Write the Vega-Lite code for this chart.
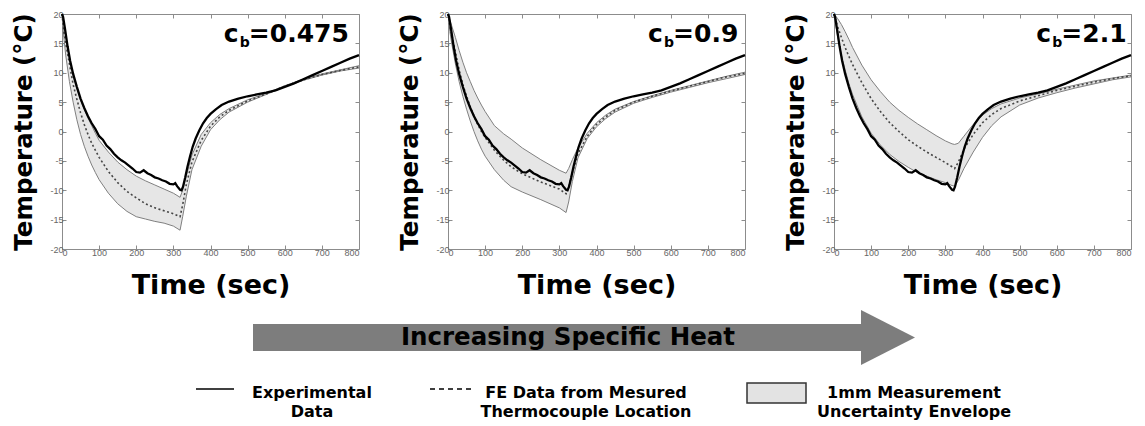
{
  "$schema": "https://vega.github.io/schema/vega-lite/v6.json",
  "padding": {"left": 10, "top": 8, "right": 0, "bottom": 0},
  "background": "white",
  "config": {
    "view": {"stroke": "#8c8c8c", "strokeWidth": 1},
    "axis": {"grid": false, "domain": false, "tickColor": "#8c8c8c", "tickSize": -4, "labelFont": "Liberation Sans", "labelFontSize": 9, "labelColor": "#666666", "titleFont": "DejaVu Sans", "titleFontWeight": "bold", "titleColor": "#000000"},
    "text": {"font": "DejaVu Sans", "fontWeight": "bold", "color": "#000000"}
  },
  "datasets": {
    "exp": [
      {"t":0,"T":20},{"t":3,"T":19.5},{"t":8,"T":17.5},{"t":15,"T":14.5},{"t":22,"T":12},{"t":30,"T":9.8},{"t":40,"T":7.6},{"t":50,"T":5.6},{"t":60,"T":4.0},{"t":70,"T":2.6},{"t":80,"T":1.4},{"t":90,"T":0.4},{"t":100,"T":-0.8},{"t":110,"T":-1.4},{"t":120,"T":-2.4},{"t":130,"T":-3.0},{"t":140,"T":-3.8},{"t":150,"T":-4.4},{"t":160,"T":-4.9},{"t":170,"T":-5.3},{"t":180,"T":-5.8},{"t":190,"T":-6.3},{"t":200,"T":-6.9},{"t":210,"T":-7.0},{"t":220,"T":-6.6},{"t":230,"T":-7.1},{"t":240,"T":-7.4},{"t":250,"T":-7.8},{"t":260,"T":-8.0},{"t":270,"T":-8.3},{"t":280,"T":-8.5},{"t":290,"T":-8.9},{"t":300,"T":-9.0},{"t":305,"T":-8.8},{"t":310,"T":-9.3},{"t":318,"T":-9.9},{"t":322,"T":-10.0},{"t":326,"T":-9.4},{"t":332,"T":-7.8},{"t":338,"T":-6.0},{"t":345,"T":-4.2},{"t":352,"T":-2.6},{"t":360,"T":-1.2},{"t":370,"T":0.2},{"t":380,"T":1.4},{"t":390,"T":2.3},{"t":400,"T":3.0},{"t":415,"T":3.8},{"t":430,"T":4.5},{"t":450,"T":5.1},{"t":475,"T":5.6},{"t":500,"T":6.0},{"t":525,"T":6.3},{"t":550,"T":6.6},{"t":575,"T":7.0},{"t":600,"T":7.6},{"t":625,"T":8.2},{"t":650,"T":8.9},{"t":675,"T":9.6},{"t":700,"T":10.3},{"t":725,"T":11.0},{"t":750,"T":11.7},{"t":775,"T":12.4},{"t":800,"T":13.0}
    ],
    "p1": [
      {"t":0,"lo":20,"hi":20,"fe":20},{"t":5,"lo":16,"hi":18.5,"fe":17},{"t":10,"lo":13,"hi":16.5,"fe":15},{"t":20,"lo":8.5,"hi":12.5,"fe":11.5},{"t":30,"lo":5,"hi":9.5,"fe":8},{"t":40,"lo":2,"hi":7.3,"fe":5.5},{"t":50,"lo":-0.5,"hi":5.3,"fe":3.2},{"t":60,"lo":-2.5,"hi":3.8,"fe":1.2},{"t":70,"lo":-4.2,"hi":2.3,"fe":-0.5},{"t":80,"lo":-5.7,"hi":1.0,"fe":-2.0},{"t":90,"lo":-7,"hi":-0.3,"fe":-3.2},{"t":100,"lo":-8.2,"hi":-1.5,"fe":-4.4},{"t":125,"lo":-10.5,"hi":-3.5,"fe":-6.8},{"t":150,"lo":-12.3,"hi":-5.2,"fe":-8.7},{"t":175,"lo":-13.6,"hi":-6.5,"fe":-10.2},{"t":200,"lo":-14.5,"hi":-7.6,"fe":-11.3},{"t":225,"lo":-14.9,"hi":-8.4,"fe":-12.3},{"t":250,"lo":-15.3,"hi":-9.1,"fe":-13.0},{"t":275,"lo":-15.6,"hi":-9.8,"fe":-13.5},{"t":300,"lo":-16.1,"hi":-10.5,"fe":-14.0},{"t":318,"lo":-16.8,"hi":-11.2,"fe":-14.5},{"t":325,"lo":-14.5,"hi":-10.0,"fe":-12.5},{"t":335,"lo":-11,"hi":-7.5,"fe":-9.0},{"t":350,"lo":-6.5,"hi":-4.0,"fe":-5.2},{"t":375,"lo":-2.5,"hi":-0.5,"fe":-1.5},{"t":400,"lo":0.3,"hi":1.5,"fe":0.9},{"t":425,"lo":2.0,"hi":2.9,"fe":2.5},{"t":450,"lo":3.3,"hi":3.9,"fe":3.6},{"t":500,"lo":5.0,"hi":5.4,"fe":5.2},{"t":550,"lo":6.3,"hi":6.5,"fe":6.4},{"t":600,"lo":7.6,"hi":7.8,"fe":7.7},{"t":650,"lo":8.7,"hi":8.9,"fe":8.8},{"t":700,"lo":9.6,"hi":9.8,"fe":9.7},{"t":750,"lo":10.3,"hi":10.5,"fe":10.4},{"t":800,"lo":10.8,"hi":11.2,"fe":11.0}
    ],
    "p2": [
      {"t":0,"lo":20,"hi":20,"fe":20},{"t":5,"lo":17,"hi":19,"fe":18},{"t":10,"lo":15,"hi":18,"fe":16.5},{"t":20,"lo":11.5,"hi":16,"fe":13.5},{"t":30,"lo":8.5,"hi":13.8,"fe":10.5},{"t":40,"lo":6,"hi":11.8,"fe":8},{"t":50,"lo":3.8,"hi":10,"fe":6},{"t":60,"lo":1.8,"hi":8.5,"fe":4.2},{"t":70,"lo":0,"hi":7.0,"fe":2.6},{"t":80,"lo":-1.6,"hi":5.7,"fe":1.2},{"t":90,"lo":-3.0,"hi":4.5,"fe":0},{"t":100,"lo":-4.2,"hi":3.4,"fe":-1.0},{"t":125,"lo":-6.5,"hi":1.0,"fe":-3.2},{"t":150,"lo":-8.3,"hi":-0.4,"fe":-4.9},{"t":170,"lo":-9.4,"hi":-1.3,"fe":-6.0},{"t":200,"lo":-10.3,"hi":-2.8,"fe":-7.2},{"t":250,"lo":-11.6,"hi":-4.8,"fe":-8.6},{"t":300,"lo":-13.0,"hi":-6.6,"fe":-9.8},{"t":318,"lo":-13.8,"hi":-7.1,"fe":-10.6},{"t":325,"lo":-12,"hi":-6.3,"fe":-9.5},{"t":335,"lo":-8.5,"hi":-4.8,"fe":-7},{"t":350,"lo":-4.5,"hi":-2.8,"fe":-3.8},{"t":375,"lo":-1.2,"hi":-0.3,"fe":-0.8},{"t":400,"lo":0.8,"hi":1.5,"fe":1.2},{"t":425,"lo":2.2,"hi":2.8,"fe":2.5},{"t":450,"lo":3.3,"hi":3.8,"fe":3.6},{"t":500,"lo":4.8,"hi":5.1,"fe":5.0},{"t":550,"lo":5.8,"hi":6.1,"fe":6.0},{"t":600,"lo":6.7,"hi":7.0,"fe":6.9},{"t":650,"lo":7.5,"hi":7.8,"fe":7.7},{"t":700,"lo":8.3,"hi":8.6,"fe":8.5},{"t":750,"lo":9.0,"hi":9.4,"fe":9.3},{"t":800,"lo":9.7,"hi":10.1,"fe":9.9}
    ],
    "p3": [
      {"t":0,"lo":20,"hi":20,"fe":20},{"t":10,"lo":16,"hi":19.2,"fe":17.8},{"t":20,"lo":13,"hi":18.2,"fe":16},{"t":30,"lo":10.5,"hi":17,"fe":14.3},{"t":40,"lo":8.2,"hi":15.7,"fe":12.8},{"t":50,"lo":6.3,"hi":14.3,"fe":11.4},{"t":75,"lo":2.5,"hi":11.3,"fe":8.3},{"t":100,"lo":-0.3,"hi":8.8,"fe":5.6},{"t":125,"lo":-2.3,"hi":6.8,"fe":3.4},{"t":150,"lo":-3.9,"hi":5.0,"fe":1.5},{"t":175,"lo":-5.1,"hi":3.6,"fe":0},{"t":200,"lo":-6.1,"hi":2.4,"fe":-1.4},{"t":225,"lo":-7.0,"hi":1.3,"fe":-2.5},{"t":250,"lo":-7.6,"hi":0.3,"fe":-3.5},{"t":275,"lo":-8.2,"hi":-0.7,"fe":-4.4},{"t":300,"lo":-8.7,"hi":-1.6,"fe":-5.3},{"t":318,"lo":-9.2,"hi":-2.1,"fe":-6.0},{"t":325,"lo":-9.3,"hi":-2.2,"fe":-6.3},{"t":335,"lo":-8.3,"hi":-2.0,"fe":-5.2},{"t":350,"lo":-6.3,"hi":-0.8,"fe":-3.0},{"t":375,"lo":-3.5,"hi":1.2,"fe":-0.5},{"t":400,"lo":-1.0,"hi":2.8,"fe":1.5},{"t":425,"lo":1.0,"hi":3.9,"fe":2.9},{"t":450,"lo":2.5,"hi":4.7,"fe":3.9},{"t":500,"lo":4.5,"hi":5.7,"fe":5.2},{"t":550,"lo":5.7,"hi":6.4,"fe":6.1},{"t":600,"lo":6.6,"hi":7.2,"fe":7.0},{"t":650,"lo":7.4,"hi":7.9,"fe":7.7},{"t":700,"lo":8.1,"hi":8.6,"fe":8.4},{"t":750,"lo":8.8,"hi":9.1,"fe":9.0},{"t":800,"lo":9.3,"hi":9.6,"fe":9.5}
    ]
  },
  "bounds": "flush",
  "spacing": 286,
  "vconcat": [
    {
      "bounds": "flush",
      "spacing": 89,
      "hconcat": [
        {
          "width": 297, "height": 235,
          "layer": [
            {"data": {"name": "p1"}, "mark": {"type": "area", "fill": "#e6e6e6"},
             "encoding": {
               "x": {"field": "t", "type": "quantitative", "scale": {"domain": [0, 800], "nice": false}, "axis": {"orient": "bottom", "values": [0,100,200,300,400,500,600,700,800], "title": "Time (sec)", "titleFontSize": 27, "titleBaseline": "alphabetic", "titleY": 44, "labelPadding": 3}},
               "y": {"field": "lo", "type": "quantitative", "scale": {"domain": [-20, 20], "nice": false}, "axis": {"orient": "left", "values": [-20,-15,-10,-5,0,5,10,15,20], "labelExpr": "toString(datum.value)", "title": "Temperature (°C)", "titleFontSize": 24.5, "titleBaseline": "alphabetic", "titleX": -31, "labelPadding": 3}},
               "y2": {"field": "hi"}
             }},
            {"data": {"name": "p1"}, "mark": {"type": "line", "stroke": "#808080", "strokeWidth": 1},
             "encoding": {
               "x": {"field": "t", "type": "quantitative", "axis": {"orient": "top", "values": [0,100,200,300,400,500,600,700,800], "labels": false, "title": null}},
               "y": {"field": "hi", "type": "quantitative", "axis": {"orient": "right", "values": [-20,-15,-10,-5,0,5,10,15,20], "labels": false, "title": null}}
             }},
            {"data": {"name": "p1"}, "mark": {"type": "line", "stroke": "#808080", "strokeWidth": 1},
             "encoding": {"x": {"field": "t", "type": "quantitative", "axis": null}, "y": {"field": "lo", "type": "quantitative", "axis": null}}},
            {"data": {"name": "p1"}, "mark": {"type": "line", "stroke": "#444444", "strokeWidth": 1.6, "strokeDash": [2, 2.5]},
             "encoding": {"x": {"field": "t", "type": "quantitative", "axis": null}, "y": {"field": "fe", "type": "quantitative", "axis": null}}},
            {"data": {"name": "exp"}, "mark": {"type": "line", "stroke": "#000000", "strokeWidth": 2.3},
             "encoding": {"x": {"field": "t", "type": "quantitative", "axis": null}, "y": {"field": "T", "type": "quantitative", "axis": null}}},
            {"data": {"values": [{"t": 436, "T": 15.2, "c": "c", "b": "b", "v": "=0.475"}]},
             "layer": [
               {"mark": {"type": "text", "align": "left", "baseline": "alphabetic", "fontSize": 25}, "encoding": {"text": {"field": "c"}}},
               {"mark": {"type": "text", "align": "left", "baseline": "alphabetic", "fontSize": 14, "dx": 16, "dy": 5}, "encoding": {"text": {"field": "b"}}},
               {"mark": {"type": "text", "align": "left", "baseline": "alphabetic", "fontSize": 25, "dx": 25}, "encoding": {"text": {"field": "v"}}}
             ],
             "encoding": {"x": {"field": "t", "type": "quantitative", "axis": null}, "y": {"field": "T", "type": "quantitative", "axis": null}}}
          ]
        },
        {
          "width": 297, "height": 235,
          "layer": [
            {"data": {"name": "p2"}, "mark": {"type": "area", "fill": "#e6e6e6"},
             "encoding": {
               "x": {"field": "t", "type": "quantitative", "scale": {"domain": [0, 800], "nice": false}, "axis": {"orient": "bottom", "values": [0,100,200,300,400,500,600,700,800], "title": "Time (sec)", "titleFontSize": 27, "titleBaseline": "alphabetic", "titleY": 44, "labelPadding": 3}},
               "y": {"field": "lo", "type": "quantitative", "scale": {"domain": [-20, 20], "nice": false}, "axis": {"orient": "left", "values": [-20,-15,-10,-5,0,5,10,15,20], "labelExpr": "toString(datum.value)", "title": "Temperature (°C)", "titleFontSize": 24.5, "titleBaseline": "alphabetic", "titleX": -31, "labelPadding": 3}},
               "y2": {"field": "hi"}
             }},
            {"data": {"name": "p2"}, "mark": {"type": "line", "stroke": "#808080", "strokeWidth": 1},
             "encoding": {
               "x": {"field": "t", "type": "quantitative", "axis": {"orient": "top", "values": [0,100,200,300,400,500,600,700,800], "labels": false, "title": null}},
               "y": {"field": "hi", "type": "quantitative", "axis": {"orient": "right", "values": [-20,-15,-10,-5,0,5,10,15,20], "labels": false, "title": null}}
             }},
            {"data": {"name": "p2"}, "mark": {"type": "line", "stroke": "#808080", "strokeWidth": 1},
             "encoding": {"x": {"field": "t", "type": "quantitative", "axis": null}, "y": {"field": "lo", "type": "quantitative", "axis": null}}},
            {"data": {"name": "p2"}, "mark": {"type": "line", "stroke": "#444444", "strokeWidth": 1.6, "strokeDash": [2, 2.5]},
             "encoding": {"x": {"field": "t", "type": "quantitative", "axis": null}, "y": {"field": "fe", "type": "quantitative", "axis": null}}},
            {"data": {"name": "exp"}, "mark": {"type": "line", "stroke": "#000000", "strokeWidth": 2.3},
             "encoding": {"x": {"field": "t", "type": "quantitative", "axis": null}, "y": {"field": "T", "type": "quantitative", "axis": null}}},
            {"data": {"values": [{"t": 539, "T": 15.2, "c": "c", "b": "b", "v": "=0.9"}]},
             "layer": [
               {"mark": {"type": "text", "align": "left", "baseline": "alphabetic", "fontSize": 25}, "encoding": {"text": {"field": "c"}}},
               {"mark": {"type": "text", "align": "left", "baseline": "alphabetic", "fontSize": 14, "dx": 16, "dy": 5}, "encoding": {"text": {"field": "b"}}},
               {"mark": {"type": "text", "align": "left", "baseline": "alphabetic", "fontSize": 25, "dx": 25}, "encoding": {"text": {"field": "v"}}}
             ],
             "encoding": {"x": {"field": "t", "type": "quantitative", "axis": null}, "y": {"field": "T", "type": "quantitative", "axis": null}}}
          ]
        },
        {
          "width": 297, "height": 235,
          "layer": [
            {"data": {"name": "p3"}, "mark": {"type": "area", "fill": "#e6e6e6"},
             "encoding": {
               "x": {"field": "t", "type": "quantitative", "scale": {"domain": [0, 800], "nice": false}, "axis": {"orient": "bottom", "values": [0,100,200,300,400,500,600,700,800], "title": "Time (sec)", "titleFontSize": 27, "titleBaseline": "alphabetic", "titleY": 44, "labelPadding": 3}},
               "y": {"field": "lo", "type": "quantitative", "scale": {"domain": [-20, 20], "nice": false}, "axis": {"orient": "left", "values": [-20,-15,-10,-5,0,5,10,15,20], "labelExpr": "toString(datum.value)", "title": "Temperature (°C)", "titleFontSize": 24.5, "titleBaseline": "alphabetic", "titleX": -31, "labelPadding": 3}},
               "y2": {"field": "hi"}
             }},
            {"data": {"name": "p3"}, "mark": {"type": "line", "stroke": "#808080", "strokeWidth": 1},
             "encoding": {
               "x": {"field": "t", "type": "quantitative", "axis": {"orient": "top", "values": [0,100,200,300,400,500,600,700,800], "labels": false, "title": null}},
               "y": {"field": "hi", "type": "quantitative", "axis": {"orient": "right", "values": [-20,-15,-10,-5,0,5,10,15,20], "labels": false, "title": null}}
             }},
            {"data": {"name": "p3"}, "mark": {"type": "line", "stroke": "#808080", "strokeWidth": 1},
             "encoding": {"x": {"field": "t", "type": "quantitative", "axis": null}, "y": {"field": "lo", "type": "quantitative", "axis": null}}},
            {"data": {"name": "p3"}, "mark": {"type": "line", "stroke": "#444444", "strokeWidth": 1.6, "strokeDash": [2, 2.5]},
             "encoding": {"x": {"field": "t", "type": "quantitative", "axis": null}, "y": {"field": "fe", "type": "quantitative", "axis": null}}},
            {"data": {"name": "exp"}, "mark": {"type": "line", "stroke": "#000000", "strokeWidth": 2.3},
             "encoding": {"x": {"field": "t", "type": "quantitative", "axis": null}, "y": {"field": "T", "type": "quantitative", "axis": null}}},
            {"data": {"values": [{"t": 545, "T": 15.2, "c": "c", "b": "b", "v": "=2.1"}]},
             "layer": [
               {"mark": {"type": "text", "align": "left", "baseline": "alphabetic", "fontSize": 25}, "encoding": {"text": {"field": "c"}}},
               {"mark": {"type": "text", "align": "left", "baseline": "alphabetic", "fontSize": 14, "dx": 16, "dy": 5}, "encoding": {"text": {"field": "b"}}},
               {"mark": {"type": "text", "align": "left", "baseline": "alphabetic", "fontSize": 25, "dx": 25}, "encoding": {"text": {"field": "v"}}}
             ],
             "encoding": {"x": {"field": "t", "type": "quantitative", "axis": null}, "y": {"field": "T", "type": "quantitative", "axis": null}}}
          ]
        }
      ]
    },
    {
      "width": 1069, "height": 125,
      "view": {"stroke": null},
      "encoding": {
        "x": {"field": "x", "type": "quantitative", "scale": {"domain": [0, 1069], "nice": false, "zero": false}, "axis": null},
        "y": {"field": "y", "type": "quantitative", "scale": {"domain": [0, 125], "reverse": true, "nice": false, "zero": false}, "axis": null}
      },
      "layer": [
        {"data": {"values": [{"x": 191, "x2": 800, "y": 24, "y2": 51}]},
         "mark": {"type": "rect", "fill": "#7d7d7d"},
         "encoding": {"x2": {"field": "x2"}, "y2": {"field": "y2"}}},
        {"data": {"values": [{"x": 799, "y": 10, "y2": 65}, {"x": 853, "y": 37.5, "y2": 37.5}]},
         "mark": {"type": "area", "fill": "#7d7d7d", "orient": "vertical"},
         "encoding": {"y2": {"field": "y2"}}},
        {"data": {"values": [{"x": 506, "y": 45, "label": "Increasing Specific Heat"}]},
         "mark": {"type": "text", "align": "center", "baseline": "alphabetic", "fontSize": 24.5},
         "encoding": {"text": {"field": "label"}}},
        {"data": {"values": [{"x": 134, "x2": 172, "y": 89}]},
         "mark": {"type": "rule", "stroke": "#000000", "strokeWidth": 1.5},
         "encoding": {"x2": {"field": "x2"}}},
        {"data": {"values": [{"x": 368, "x2": 412, "y": 89}]},
         "mark": {"type": "rule", "stroke": "#000000", "strokeWidth": 1.5, "strokeDash": [5, 4]},
         "encoding": {"x2": {"field": "x2"}}},
        {"data": {"values": [{"x": 685, "x2": 744, "y": 83, "y2": 103}]},
         "mark": {"type": "rect", "fill": "#e3e3e3", "stroke": "#333333", "strokeWidth": 1.5},
         "encoding": {"x2": {"field": "x2"}, "y2": {"field": "y2"}}},
        {"data": {"values": [
           {"x": 250, "y": 98, "label": "Experimental|Data"},
           {"x": 524, "y": 98, "label": "FE Data from Mesured|Thermocouple Location"},
           {"x": 852, "y": 98, "label": "1mm Measurement|Uncertainty Envelope"}
         ]},
         "mark": {"type": "text", "align": "center", "baseline": "alphabetic", "fontSize": 16, "lineBreak": "|", "lineHeight": 19},
         "encoding": {"text": {"field": "label"}}}
      ]
    }
  ]
}
